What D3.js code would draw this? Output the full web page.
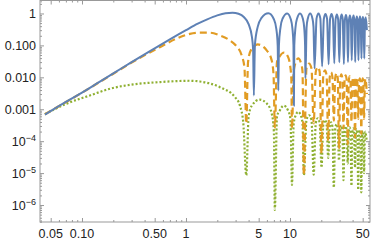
<!DOCTYPE html>
<html>
<head>
<meta charset="utf-8">
<script src="https://cdn.jsdelivr.net/npm/d3@7"></script>
<style>
  body { margin: 0; background: #fff; }
  text { font-family: "Liberation Sans", Arial, sans-serif; }
</style>
</head>
<body>
<div id="chart"></div>
<script>
//==============================================================================
// data (x, value)

var blueSolid = [
  [0.044,0.00068],[0.07,0.0017],[0.1,0.0033],[0.15,0.0075],[0.2,0.0133],[0.3,0.030],[0.5,0.081],
  [0.7,0.155],[1,0.301],[1.3,0.48],[1.6,0.655],[2,0.871],[2.4,1.02],[2.8,1.06],[3.2,0.98],
  [3.6,0.774],[4.0,0.464],[4.3,0.188],[4.42,0.073],[4.493,0.0027],
  [4.6,0.104],[4.9,0.387],[5.3,0.711],[6.2,1.01],[7.0,0.66],[7.4,0.317],[7.62,0.096],[7.725,0.0039],
  [7.83,0.104],[8.1,0.363],[8.5,0.696],[9.4,1.0],[10.2,0.646],[10.55,0.343],[10.8,0.103],[10.904,0.0013],
  [11.0,0.1],[11.3,0.37],[11.7,0.7],[12.5,1.0],[13.3,0.68],[13.7,0.36],[13.97,0.1],[14.066,0.0093],
  [14.45,0.38],[14.85,0.7],[15.64,1.0],[16.43,0.7],[16.83,0.38],[17.221,0.019],
  [18.01,0.7],[18.8,1.0],[19.58,0.7],[20.371,0.022],
  [21.16,0.68],[21.94,0.97],[22.73,0.68],[23.519,0.0255],
  [24.3,0.68],[25.09,0.97],[25.88,0.68],[26.666,0.0275],
  [27.45,0.65],[28.24,0.93],[29.03,0.65],[29.812,0.0295],
  [30.6,0.65],[31.38,0.93],[32.17,0.65],[32.956,0.026],
  [33.74,0.63],[34.53,0.9],[35.31,0.63],[36.1,0.03],
  [36.89,0.61],[37.67,0.87],[38.46,0.61],[39.244,0.034],
  [40.03,0.61],[40.82,0.87],[41.6,0.61],[42.387,0.03],
  [43.17,0.57],[43.96,0.81],[44.74,0.57],[45.53,0.034],
  [46.32,0.56],[47.1,0.8],[47.89,0.56],[48.674,0.039],
  [49.46,0.55],[50.24,0.78],[51.02,0.55],[51.8,0.039],
  [52.6,0.53],[53.4,0.75],[54.2,0.53],[54.9,0.3]
];

var orangeDashed = [
  [0.044,0.0007],[0.1,0.0033],[0.2,0.013],[0.3,0.029],[0.56,0.088],[0.8,0.16],[1.09,0.23],
  [1.36,0.25],[1.7,0.25],[2.12,0.205],[2.65,0.143],[3.07,0.093],[3.43,0.049],[3.65,0.02],[3.8,0.00036],
  [3.95,0.03],[4.2,0.07],[4.9,0.107],[5.97,0.07],[6.67,0.034],[6.95,0.012],[7.15,0.00027],
  [7.5,0.03],[7.95,0.045],[8.8,0.06],[9.6,0.043],[10.0,0.025],[10.3,0.009],[10.45,0.00025],
  [10.85,0.015],[11.24,0.027],[12.0,0.039],[12.8,0.027],[13.2,0.015],[13.6,0.0000087],
  [14.4,0.019],[15.25,0.027],[16.1,0.019],[16.9,0.00036],
  [17.7,0.015],[18.5,0.021],[19.3,0.015],[20.1,0.000042],
  [20.9,0.0115],[21.7,0.0165],[22.5,0.0115],[23.3,0.0001],
  [24.1,0.01],[24.85,0.0144],[25.6,0.01],[26.4,0.00044],
  [27.2,0.0094],[28.0,0.0134],[28.8,0.0094],[29.6,0.00006],
  [30.4,0.0088],[31.15,0.0125],[31.9,0.0088],[32.7,0.00025],
  [33.5,0.0081],[34.3,0.0116],[35.1,0.0081],[35.9,0.00008],
  [36.7,0.0076],[37.45,0.0108],[38.2,0.0076],[39.0,0.0004],
  [39.8,0.007],[40.6,0.01],[41.4,0.007],[42.2,0.00013],
  [43.0,0.007],[43.75,0.01],[44.5,0.007],[45.3,0.0005],
  [46.1,0.0065],[46.9,0.0093],[47.7,0.0065],[48.5,0.00017],
  [49.3,0.0065],[50.05,0.0093],[50.8,0.0065],[51.6,0.0005],
  [52.4,0.0062],[53.2,0.009],[54.0,0.0062],[54.9,0.003]
];

var greenDotted = [
  [0.044,0.0007],[0.0709,0.0015],[0.119,0.0027],[0.186,0.0044],[0.311,0.006],[0.562,0.0071],
  [1.09,0.0078],[1.36,0.0074],[2.12,0.0049],[2.96,0.0024],[3.3,0.0013],[3.55,0.0004],[3.8,0.0000085],
  [4.0,0.0006],[4.3,0.0013],[5.1,0.002],[6.0,0.0015],[6.7,0.0007],[7.0,0.0002],[7.15,0.0000007],
  [7.5,0.0006],[7.95,0.0009],[8.7,0.0013],[9.6,0.0009],[10.1,0.0005],[10.45,0.0000043],
  [10.85,0.00035],[11.24,0.0006],[12.0,0.00083],[12.8,0.0006],[13.2,0.00035],[13.6,0.0000085],
  [14.4,0.00046],[15.25,0.00065],[16.1,0.00046],[16.9,0.000009],
  [17.7,0.00037],[18.5,0.00052],[19.3,0.00037],[20.1,0.000015],
  [20.9,0.00033],[21.7,0.00046],[22.5,0.00033],[23.3,0.00003],
  [24.1,0.00028],[24.85,0.00039],[25.6,0.00028],[26.4,0.0000035],
  [27.2,0.00024],[28.0,0.00034],[28.8,0.00024],[29.6,0.000025],
  [30.4,0.00022],[31.15,0.00031],[31.9,0.00022],[32.7,0.000006],
  [33.5,0.0002],[34.3,0.00029],[35.1,0.0002],[35.9,0.00002],
  [36.7,0.00019],[37.45,0.00027],[38.2,0.00019],[39.0,0.000004],
  [39.8,0.00018],[40.6,0.00025],[41.4,0.00018],[42.2,0.000015],
  [43.0,0.00017],[43.75,0.00024],[44.5,0.00017],[45.3,0.000003],
  [46.1,0.00016],[46.9,0.00022],[47.7,0.00016],[48.5,0.0000025],
  [49.3,0.00015],[50.05,0.00021],[50.8,0.00015],[51.6,0.00001],
  [52.4,0.00014],[53.2,0.0002],[54.0,0.00014],[54.9,0.0001]
];

var xTickValues = [0.05, 0.1, 0.5, 1, 5, 10, 50];
var xTickLabels = ["0.05", "0.10", "0.50", "1", "5", "10", "50"];
var xMinorValues = [0.04,0.06,0.07,0.08,0.09,0.2,0.3,0.4,0.6,0.7,0.8,0.9,2,3,4,6,7,8,9,20,30,40];
var yTickValues = [1, 0.1, 0.01, 0.001, 1e-4, 1e-5, 1e-6];
var yTickLabels = ["1", "0.100", "0.010", "0.001", "-4", "-5", "-6"];

var seriesColors = ["#5E81B5", "#E19C24", "#8FB032"];

//==============================================================================

var totalWidth = 374;
var totalHeight = 241;

var svg = d3.select("#chart").append("svg")
    .attr("width", totalWidth)
    .attr("height", totalHeight);

var plotLeft = 40, plotRight = 370, plotTop = 0.5, plotBottom = 222;

var x = d3.scaleLog().domain([0.03946, 58.8]).range([plotLeft, plotRight]);
var y = d3.scaleLog().domain([2.94e-7, 2.55]).range([plotBottom, plotTop]);

var yMinorValues = [];
[1e-7,1e-6,1e-5,1e-4,1e-3,1e-2,1e-1,1].forEach(function(d) {
    for (var k = 2; k <= 9; k++) {
        var v = d * k;
        if (v > y.domain()[0] && v < y.domain()[1]) yMinorValues.push(v);
    }
});

var frameColor = "#999999";

var clip = svg.append("clipPath").attr("id", "plotclip")
    .append("rect")
    .attr("x", plotLeft).attr("y", plotTop)
    .attr("width", plotRight - plotLeft).attr("height", plotBottom - plotTop);

var line = d3.line()
    .x(function(d) { return x(d[0]); })
    .y(function(d) { return y(d[1]); })
    .curve(d3.curveMonotoneX);

var curves = svg.append("g").attr("clip-path", "url(#plotclip)");

curves.append("path").datum(greenDotted)
    .attr("d", line)
    .attr("fill", "none")
    .attr("stroke", seriesColors[2])
    .attr("stroke-width", 2.2)
    .attr("stroke-dasharray", "2,2");

curves.append("path").datum(orangeDashed)
    .attr("d", line)
    .attr("fill", "none")
    .attr("stroke", seriesColors[1])
    .attr("stroke-width", 2.2)
    .attr("stroke-dasharray", "7,4");

curves.append("path").datum(blueSolid)
    .attr("d", line)
    .attr("fill", "none")
    .attr("stroke", seriesColors[0])
    .attr("stroke-width", 2);

// frame
svg.append("rect")
    .attr("x", plotLeft).attr("y", plotTop)
    .attr("width", plotRight - plotLeft).attr("height", plotBottom - plotTop)
    .attr("fill", "none")
    .attr("stroke", frameColor)
    .attr("stroke-width", 1);

function tickAxis(axis, pos, values, size) {
    var g = svg.append("g").attr("transform", pos)
        .call(axis.tickValues(values).tickSize(size).tickFormat(""));
    g.select(".domain").remove();
    g.selectAll("line").attr("stroke", frameColor);
    return g;
}

// ticks point inward on all four sides
tickAxis(d3.axisBottom(x), "translate(0," + plotBottom + ")", xTickValues, -4);
tickAxis(d3.axisBottom(x), "translate(0," + plotBottom + ")", xMinorValues, -2);
tickAxis(d3.axisTop(x), "translate(0," + plotTop + ")", xTickValues, -4);
tickAxis(d3.axisTop(x), "translate(0," + plotTop + ")", xMinorValues, -2);
tickAxis(d3.axisLeft(y), "translate(" + plotLeft + ",0)", yTickValues, -4);
tickAxis(d3.axisLeft(y), "translate(" + plotLeft + ",0)", yMinorValues, -2);
tickAxis(d3.axisRight(y), "translate(" + plotRight + ",0)", yTickValues, -4);
tickAxis(d3.axisRight(y), "translate(" + plotRight + ",0)", yMinorValues, -2);

// tick labels
svg.append("g").selectAll("text")
    .data(xTickValues)
    .enter().append("text")
    .attr("x", function(d) { return x(d); })
    .attr("y", 237.5)
    .attr("text-anchor", "middle")
    .attr("font-size", 12.5)
    .attr("fill", "#222")
    .text(function(d, i) { return xTickLabels[i]; });

var yLabels = svg.append("g").selectAll("text")
    .data(yTickValues)
    .enter().append("text")
    .attr("x", 36)
    .attr("y", function(d) { return y(d) + 4.5; })
    .attr("text-anchor", "end")
    .attr("font-size", 12.5)
    .attr("fill", "#222");

yLabels.each(function(d, i) {
    var t = d3.select(this);
    if (d >= 0.001) {
        t.text(yTickLabels[i]);
    } else {
        t.append("tspan").text("10");
        t.append("tspan").attr("dy", -5).attr("font-size", 9).text("\u2212" + yTickLabels[i].slice(1));
    }
});
</script>
</body>
</html>
